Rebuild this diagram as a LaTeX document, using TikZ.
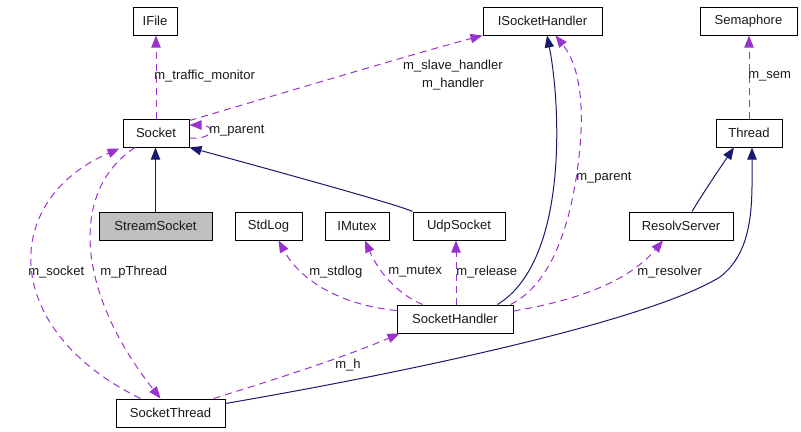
\documentclass[tikz,border=0pt]{standalone}
\usepackage{fontspec}
\setmainfont{Liberation Sans}
\usetikzlibrary{arrows.meta,calc}
\definecolor{dep}{HTML}{9A32CD}
\definecolor{inh}{HTML}{191970}
\tikzset{
  box/.style={draw=black, line width=0.75pt, rectangle, minimum height=21pt, inner sep=0pt, font=\fontsize{9.8}{11}\selectfont, text=black!90},
  depline/.style={draw=dep, line width=0.75pt, dash pattern=on 5.25pt off 3.75pt, -{Triangle[length=9pt,width=7pt,fill=dep]}},
  inhline/.style={draw=inh, line width=0.75pt, -{Triangle[length=9pt,width=7pt,fill=inh]}},
  lbl/.style={anchor=west, inner sep=0pt, font=\fontsize{9.8}{11}\selectfont, text=black!90}
}
\begin{document}
\begin{tikzpicture}[x=0.75pt, y=-0.75pt]
\useasboundingbox (0,0) rectangle (801,432);
% nodes
\node[box, minimum width=33pt] (IFile) at (155,21) {IFile};
\node[box, minimum width=89.25pt] (ISocketHandler) at (542.5,21) {ISocketHandler};
\node[box, minimum width=72.75pt] (Semaphore) at (748.5,21) {Semaphore};
\node[box, minimum width=49.5pt] (Socket) at (156,133) {Socket};
\node[box, minimum width=49.5pt] (Thread) at (749,133) {Thread};
\node[box, minimum width=84.75pt, fill=black!25] (StreamSocket) at (155.5,226) {StreamSocket};
\node[box, minimum width=50.25pt] (StdLog) at (268.5,226) {StdLog};
\node[box, minimum width=48pt] (IMutex) at (357,226) {IMutex};
\node[box, minimum width=69pt] (UdpSocket) at (459,226) {UdpSocket};
\node[box, minimum width=78pt] (ResolvServer) at (681,226) {ResolvServer};
\node[box, minimum width=87pt] (SocketHandler) at (455,319) {SocketHandler};
\node[box, minimum width=81.75pt] (SocketThread) at (170.5,413) {SocketThread};

% Socket -> IFile
\draw[depline] (Socket.north) -- (Socket.north |- IFile.south);
\node[lbl] at (154,76) {m\_traffic\_monitor};

% Socket -> ISocketHandler
\draw[depline] ($(Socket.north east)+(0,2)$) .. controls (300,88) and (420,52) .. (ISocketHandler.south west);
\node[align=center, inner sep=0pt, font=\fontsize{9.8}{13}\selectfont, text=black!90] at (453,75) {m\_slave\_handler\\m\_handler};

% Socket self loop
\draw[depline] ($(Socket.east)+(0,5)$) .. controls (215,140) and (215,125) .. ($(Socket.east)+(0,-8)$);
\node[lbl] at (209,131) {m\_parent};

% inheritance to Socket
\draw[inhline] (StreamSocket.north) -- (StreamSocket.north |- Socket.south);
\draw[inhline] (UdpSocket.north west) .. controls (400,205) and (250,164) .. (Socket.south east);

% m_pThread
\draw[depline] ($(Socket.south)+(-21,0)$) .. controls (70,190) and (75,290) .. ($(SocketThread.north)+(-10,0)$);
\node[lbl] at (100,272) {m\_pThread};

% m_socket
\draw[depline] ($(SocketThread.north)+(-30,0)$) .. controls (0,330) and (0,200) .. ($(Socket.south west)+(-3,1)$);
\node[lbl] at (28,272) {m\_socket};

% m_stdlog
\draw[depline] ($(SocketHandler.north west)+(0,6)$) .. controls (340,305) and (300,280) .. ($(StdLog.south)+(10,0)$);
\node[lbl] at (309,272) {m\_stdlog};

% m_mutex
\draw[depline] ($(SocketHandler.north west)+(26,0)$) .. controls (400,295) and (380,275) .. ($(IMutex.south)+(8,0)$);
\node[lbl] at (388,272) {m\_mutex};

% m_release
\draw[depline] ($(SocketHandler.north)+(1,0)$) -- ($(UdpSocket.south)+(-3,0)$);
\node[lbl] at (456,272) {m\_release};

% SocketHandler -> ISocketHandler inheritance
\draw[inhline] ($(SocketHandler.north east)+(-16,0)$) .. controls (570,260) and (560,100) .. ($(ISocketHandler.south)+(4.5,0)$);

% m_parent SocketHandler -> ISocketHandler
\draw[depline] ($(SocketHandler.north east)+(-3,0)$) .. controls (560,280) and (575,200) .. (580,147) .. controls (585,90) and (575,60) .. ($(ISocketHandler.south)+(13,0)$);
\node[lbl] at (576,178) {m\_parent};

% m_resolver
\draw[depline] ($(SocketHandler.east)+(0,-8)$) .. controls (580,300) and (630,280) .. ($(ResolvServer.south)+(-18,0)$);
\node[lbl] at (637,272) {m\_resolver};

% ResolvServer -> Thread
\draw[inhline] ($(ResolvServer.north)+(11,0)$) .. controls (705,190) and (720,168) .. ($(Thread.south)+(-15,0)$);

% SocketThread -> Thread
\draw[inhline] ($(SocketThread.north east)+(0,5)$) .. controls (420,370) and (650,320) .. (720,277) .. controls (755,250) and (752,200) .. ($(Thread.south)+(3,0)$);

% m_h
\draw[depline] ($(SocketThread.north east)+(-12,0)$) .. controls (280,378) and (350,355) .. ($(SocketHandler.south west)+(3,0)$);
\node[lbl] at (335,365) {m\_h};

% m_sem
\draw[depline] (Thread.north) -- (Thread.north |- Semaphore.south);
\node[lbl] at (748,76) {m\_sem};
\end{tikzpicture}
\end{document}
